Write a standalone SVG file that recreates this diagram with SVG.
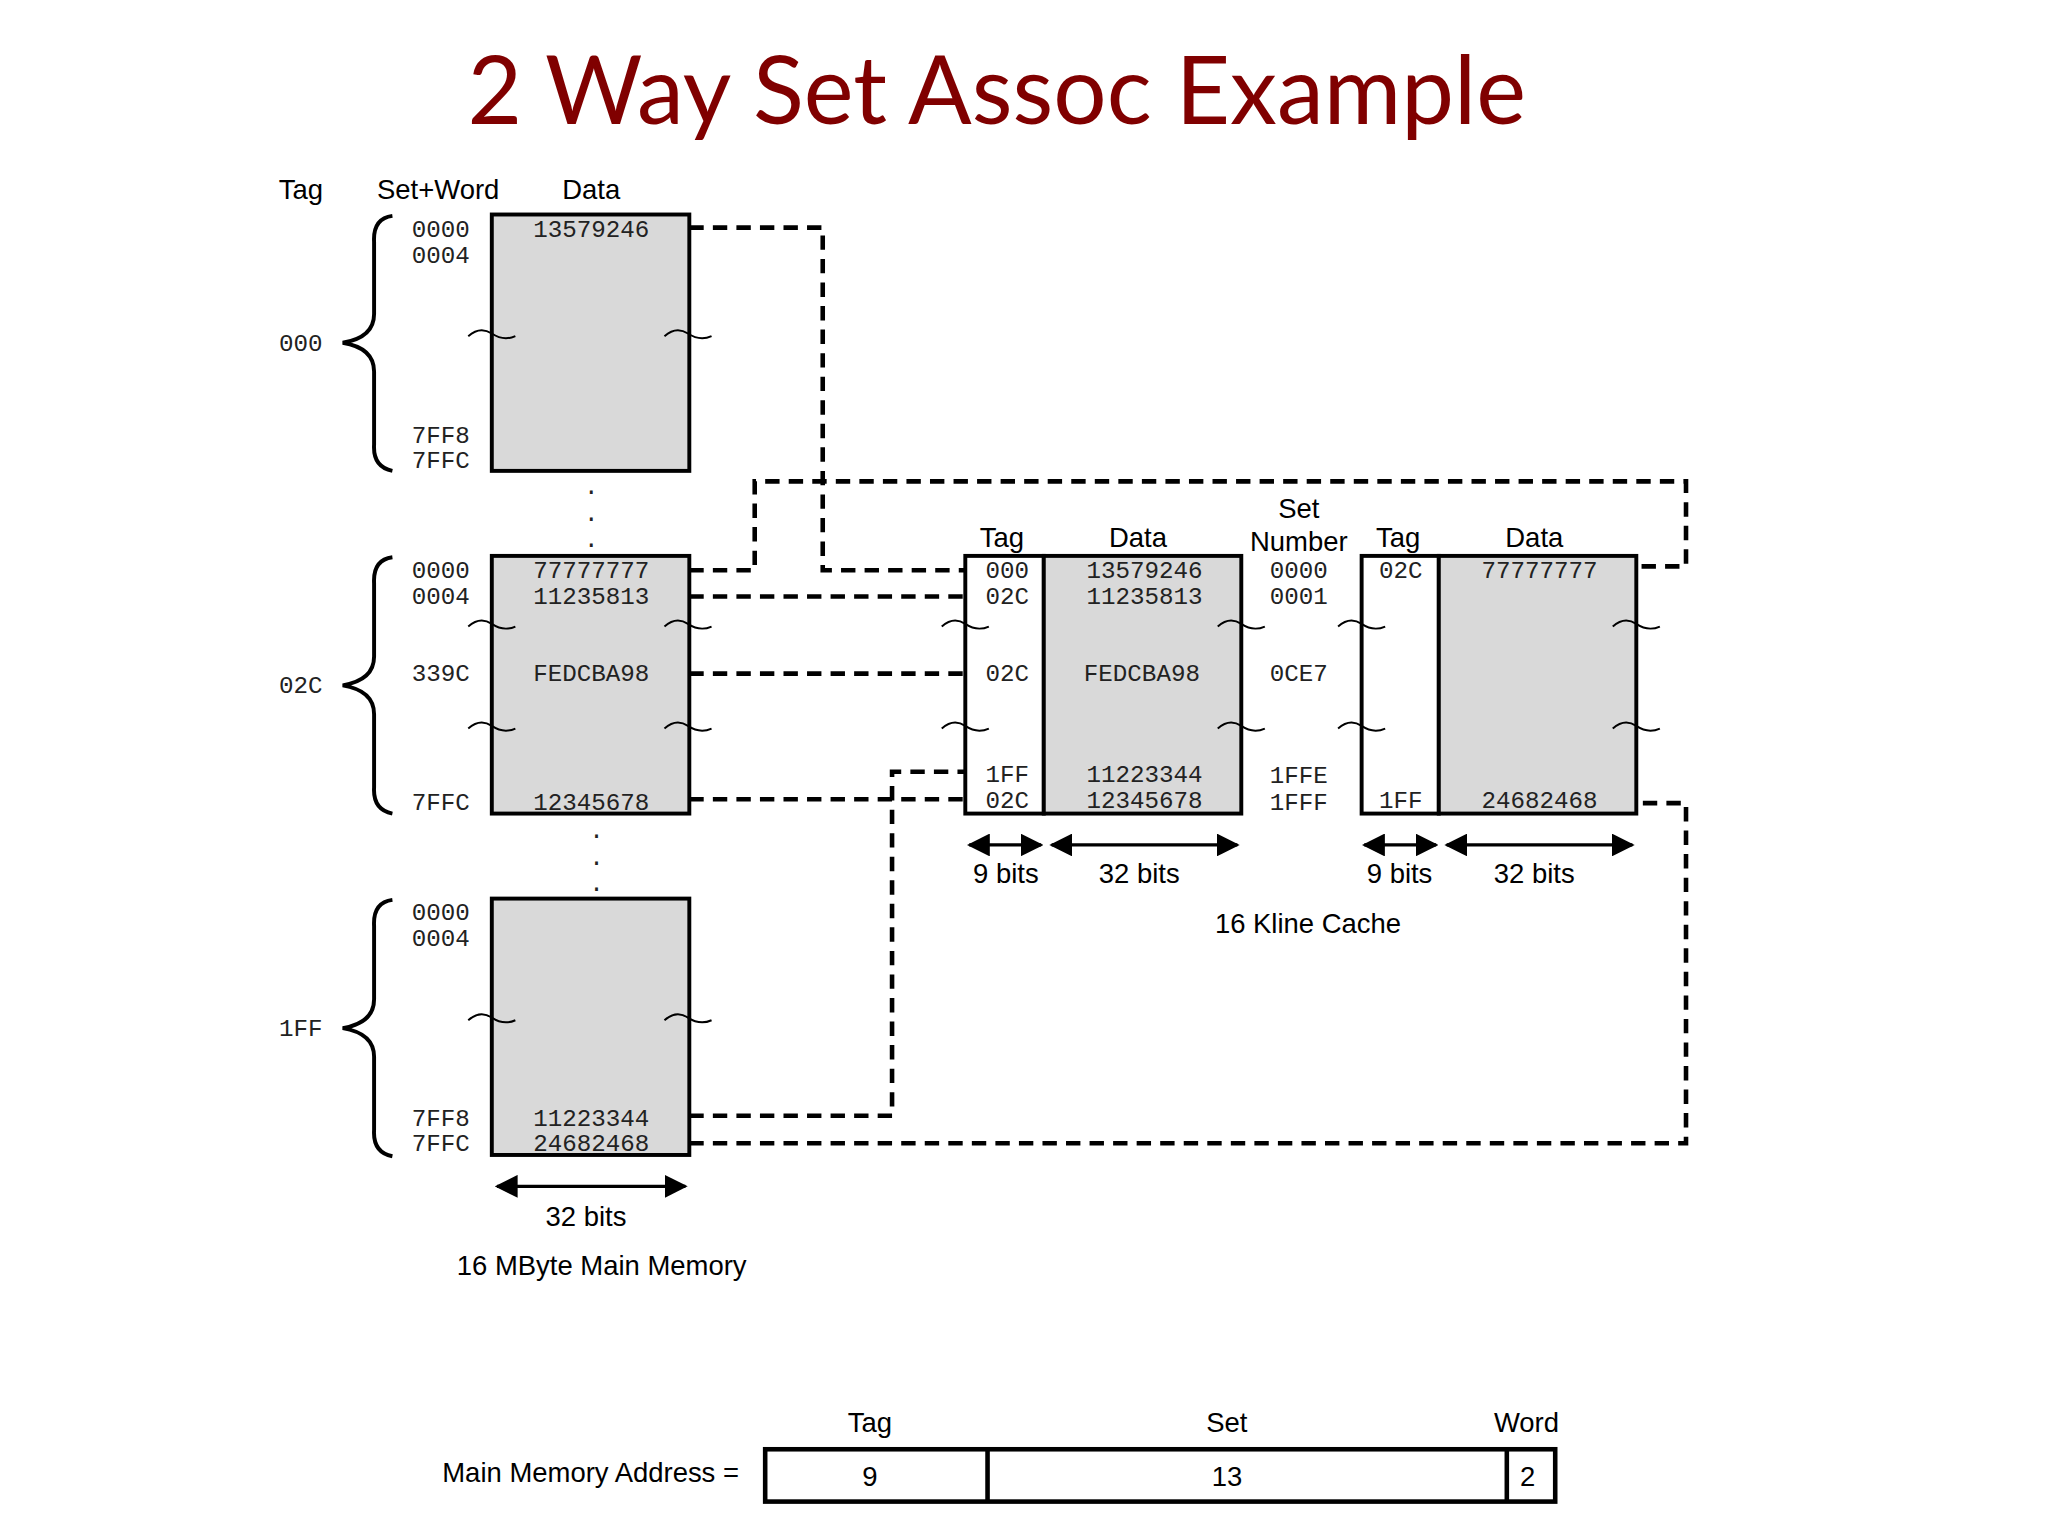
<svg xmlns="http://www.w3.org/2000/svg" width="2048" height="1536" viewBox="0 0 2048 1536">
<style>
.s{font-family:"Liberation Sans",Arial,sans-serif;font-size:21px;fill:#000;text-anchor:middle}
.m{font-family:"Liberation Mono","DejaVu Sans Mono",monospace;font-size:18.5px;fill:#222;text-anchor:middle}
.blk{fill:#d9d9d9;stroke:#000;stroke-width:3}
.wb{fill:#fff;stroke:#000;stroke-width:3}
.d{fill:none;stroke:#000;stroke-width:3.5;stroke-dasharray:11 7}
.t{fill:none;stroke:#000;stroke-width:1.5}
.a{stroke:#000;stroke-width:2.5;marker-start:url(#ah);marker-end:url(#ah)}
.br{fill:none;stroke:#000;stroke-width:3}
</style>
<defs>
<marker id="ah" viewBox="0 0 10 10" refX="9" refY="5" markerWidth="7" markerHeight="7" orient="auto-start-reverse"><path d="M0,0L10,5L0,10z"/></marker>
</defs>
<rect width="2048" height="1536" fill="#fff"/>
<g transform="scale(1.308)">
<text x="762" y="95" style="font-family:'Comic Sans MS',Lato,'DejaVu Sans',sans-serif;font-size:72px;fill:#800000;text-anchor:middle">2 Way Set Assoc Example</text>

<g id="connectors">
<path class="d" d="M527,174H629V436H738"/>
<path class="d" d="M527,436H577V368H1289V433H1251"/>
<path class="d" d="M527,456H738"/>
<path class="d" d="M527,515H738"/>
<path class="d" d="M527,611H738"/>
<path class="d" d="M527,853H682V590H738"/>
<path class="d" d="M527,874H1289V614H1251"/>
</g>

<g id="mem-headers">
<text class="s" x="230" y="152">Tag</text>
<text class="s" x="335" y="152">Set+Word</text>
<text class="s" x="452" y="152">Data</text>
</g>

<g id="mem-000">
<rect class="blk" x="376" y="164" width="151" height="196"/>
<path class="br" d="M300,165Q285,167 286,185V240Q286,258 262,262Q286,266 286,284V340Q285,357 300,360"/>
<text class="m" x="230" y="268">000</text>
<text class="m" x="337" y="181">0000</text><text class="m" x="337" y="201">0004</text>
<text class="m" x="337" y="339">7FF8</text><text class="m" x="337" y="358">7FFC</text>
<text class="m" x="452" y="181">13579246</text>
<path class="t" d="M358,257q9,-8 18,-2t18,2M508,257q9,-8 18,-2t18,2"/>
</g>

<g id="dots1"><text class="m" x="452" y="378">.</text><text class="m" x="452" y="398">.</text><text class="m" x="452" y="418">.</text>
<text class="m" x="456" y="641">.</text><text class="m" x="456" y="661">.</text><text class="m" x="456" y="681">.</text></g>

<g id="mem-02C">
<rect class="blk" x="376" y="425" width="151" height="197"/>
<path class="br" d="M300,426Q285,428 286,446V502Q286,520 262,524Q286,528 286,546V602Q285,619 300,622"/>
<text class="m" x="230" y="530">02C</text>
<text class="m" x="337" y="442">0000</text><text class="m" x="337" y="462">0004</text>
<text class="m" x="337" y="521">339C</text><text class="m" x="337" y="619">7FFC</text>
<text class="m" x="452" y="442">77777777</text><text class="m" x="452" y="462">11235813</text>
<text class="m" x="452" y="521">FEDCBA98</text><text class="m" x="452" y="619">12345678</text>
<path class="t" d="M358,479q9,-8 18,-2t18,2M508,479q9,-8 18,-2t18,2M358,557q9,-8 18,-2t18,2M508,557q9,-8 18,-2t18,2"/>
</g>

<g id="mem-1FF">
<rect class="blk" x="376" y="687" width="151" height="196"/>
<path class="br" d="M300,688Q285,690 286,708V764Q286,782 262,786Q286,790 286,808V864Q285,881 300,884"/>
<text class="m" x="230" y="792">1FF</text>
<text class="m" x="337" y="703">0000</text><text class="m" x="337" y="723">0004</text>
<text class="m" x="337" y="861">7FF8</text><text class="m" x="337" y="880">7FFC</text>
<text class="m" x="452" y="861">11223344</text><text class="m" x="452" y="880">24682468</text>
<path class="t" d="M358,780q9,-8 18,-2t18,2M508,780q9,-8 18,-2t18,2"/>
</g>

<g id="mem-width">
<line class="a" x1="380" y1="907" x2="524" y2="907"/>
<text class="s" x="448" y="937">32 bits</text>
<text class="s" x="460" y="975">16 MByte Main Memory</text>
</g>

<g id="cache-headers">
<text class="s" x="766" y="418">Tag</text><text class="s" x="870" y="418">Data</text>
<text class="s" x="993" y="396">Set</text><text class="s" x="993" y="421">Number</text>
<text class="s" x="1069" y="418">Tag</text><text class="s" x="1173" y="418">Data</text>
</g>

<g id="cache-way1">
<rect class="wb" x="738" y="425" width="60" height="197"/>
<rect class="blk" x="798" y="425" width="151" height="197"/>
<text class="m" x="770" y="442">000</text><text class="m" x="770" y="462">02C</text>
<text class="m" x="770" y="521">02C</text><text class="m" x="770" y="598">1FF</text><text class="m" x="770" y="618">02C</text>
<text class="m" x="875" y="442">13579246</text><text class="m" x="875" y="462">11235813</text>
<text class="m" x="873" y="521">FEDCBA98</text><text class="m" x="875" y="598">11223344</text><text class="m" x="875" y="618">12345678</text>
<path class="t" d="M720,479q9,-8 18,-2t18,2M931,479q9,-8 18,-2t18,2M720,557q9,-8 18,-2t18,2M931,557q9,-8 18,-2t18,2"/>
</g>

<g id="set-numbers">
<text class="m" x="993" y="442">0000</text><text class="m" x="993" y="462">0001</text>
<text class="m" x="993" y="521">0CE7</text><text class="m" x="993" y="599">1FFE</text><text class="m" x="993" y="619">1FFF</text>
</g>

<g id="cache-way2">
<rect class="wb" x="1041" y="425" width="59" height="197"/>
<rect class="blk" x="1100" y="425" width="151" height="197"/>
<text class="m" x="1071" y="442">02C</text><text class="m" x="1071" y="618">1FF</text>
<text class="m" x="1177" y="442">77777777</text><text class="m" x="1177" y="618">24682468</text>
<path class="t" d="M1023,479q9,-8 18,-2t18,2M1233,479q9,-8 18,-2t18,2M1023,557q9,-8 18,-2t18,2M1233,557q9,-8 18,-2t18,2"/>
</g>

<g id="cache-widths">
<line class="a" x1="741" y1="646" x2="796" y2="646"/>
<line class="a" x1="804" y1="646" x2="946" y2="646"/>
<line class="a" x1="1043" y1="646" x2="1098" y2="646"/>
<line class="a" x1="1106" y1="646" x2="1248" y2="646"/>
<text class="s" x="769" y="675">9 bits</text><text class="s" x="871" y="675">32 bits</text>
<text class="s" x="1070" y="675">9 bits</text><text class="s" x="1173" y="675">32 bits</text>
<text class="s" x="1000" y="713">16 Kline Cache</text>
</g>

<g id="address">
<text class="s" x="665" y="1095">Tag</text><text class="s" x="938" y="1095">Set</text><text class="s" x="1167" y="1095">Word</text>
<rect x="585" y="1108" width="604" height="40" fill="#fff" stroke="#000" stroke-width="3.5"/>
<line x1="755" y1="1108" x2="755" y2="1148" stroke="#000" stroke-width="3.5"/>
<line x1="1152" y1="1108" x2="1152" y2="1148" stroke="#000" stroke-width="3.5"/>
<text class="s" x="665" y="1136">9</text><text class="s" x="938" y="1136">13</text><text class="s" x="1168" y="1136">2</text>
<text class="s" x="565" y="1133" style="text-anchor:end">Main Memory Address =</text>
</g>
</g>
</svg>
